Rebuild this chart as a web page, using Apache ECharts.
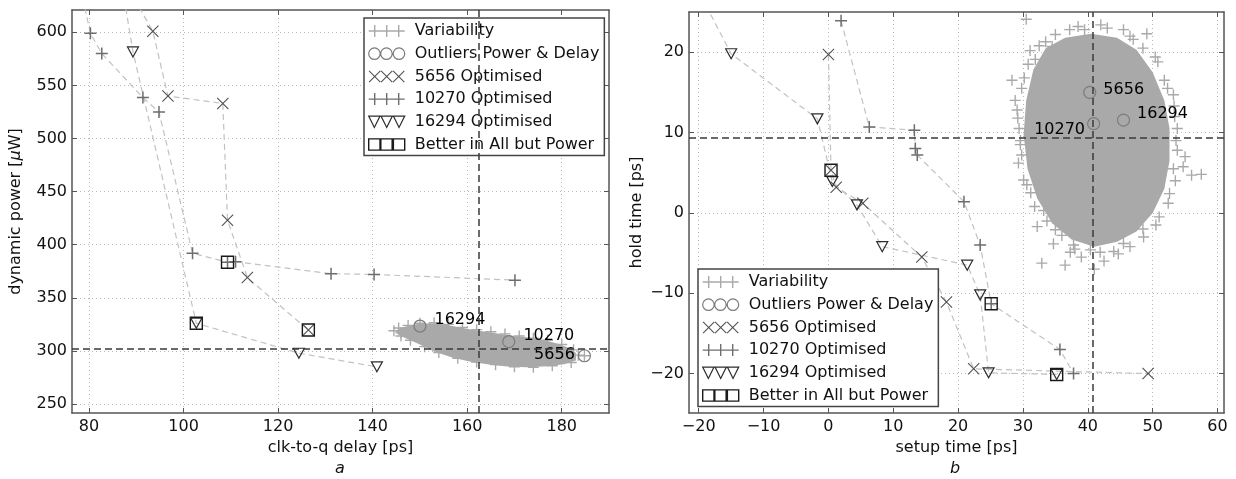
<!DOCTYPE html>
<html><head><meta charset="utf-8">
<script src="https://cdn.jsdelivr.net/npm/echarts@6/dist/echarts.min.js"></script>
<style>html,body{margin:0;padding:0;background:#fff}#c{width:1236px;height:479px}</style>
</head><body><div id="c"></div>
<script>
// ================= DATA =================
// ---- plot a : clk-to-q delay [ps] vs dynamic power [uW] ----
const aXTicks = [80, 100, 120, 140, 160, 180];
const aYTicks = [250, 300, 350, 400, 450, 500, 550, 600];
const aXRange = [76.4, 190];
const aYRange = [241.5, 621];
// dense core of the variability cloud (outline)
const aVarCore = [[144.8,319],[146.5,322.5],[149,325],[152,326],[155,325],[158,322.5],[161,320],[164,318],[167,316],[170,314],
                  [173,312.5],[176,310.5],[179,307],[181.5,303],[183,298],[183,291],[180.5,287.5],[177,285.5],[173,284.5],
                  [169,285],[165,287],[161,289.5],[157,293.5],[153,299.5],[150,306],[147.5,311],[145.5,315]];
// scattered variability samples at the cloud edge
const aVarFringe = [[144.5,319],[145.5,321.5],[146,317],[147.5,324],[150,326],[153,326.5],[156,325],[159,322],[162,320],
                    [165,318],[168,316],[171,314],[174,312],[177,310],[180,306],[182.5,301],[183.5,296],[184.8,295.4],
                    [182,289],[178,286],[174,284.5],[170,285],[166,287],[162,289.5],[158,293],[154,298.5],[151,304],[148,310],[146,314]];
const aOutliers = [[150,323.4],[168.8,308.7],[184.8,295.4]];
const aOutlierNames = ['16294', '10270', '5656'];
const a5656 = [[88.5,640],[93.5,601],[96.7,540],[108.3,533],[109.3,423],[113.5,369],[126.4,319.6]];
const a10270 = [[77.3,660],[80.3,599],[82.7,580],[91.4,538.5],[94.8,525],[101.9,392],[109.3,383.5],[111,384],[131.2,372.7],[140.3,372],[170.1,366.6]];
const a16294 = [[86.4,660],[89.3,581.5],[102.7,326],[124.4,297.8],[140.9,285]];
const aBetter = [[109.3,383.5],[126.4,319.6],[102.7,326]];
const aRef = {x: 162.5, y: 302};

// ---- plot b : setup time [ps] vs hold time [ps] ----
const bXTicks = [-20, -10, 0, 10, 20, 30, 40, 50, 60];
const bYTicks = [-20, -10, 0, 10, 20];
const bXRange = [-21.5, 61];
const bYRange = [-24.9, 25];
const bVarCore = [[33.5,20.5],[36.5,21.8],[40.5,22.3],[44.5,21.8],[47.5,20.3],[50,17.5],[51.8,14],[52.6,10.5],[52.6,6.5],
                  [51.8,3],[50,0],[47.5,-2.3],[44.5,-3.6],[41,-4.2],[37.5,-3.3],[34.5,-1.3],[32.2,1.8],[30.7,5.5],
                  [30.1,9.8],[30.5,14],[31.6,17.8]];
const bVarFringe = [[30.5,24.1],[37.2,22.8],[31.1,20.2],[31.9,19.1],[28.3,16.5],[28.8,14],[29.1,12.8],[49.1,22.3],[50.4,19.4],
                    [53.2,14.7],[55,7],[56,4.7],[54.7,5.75],[29.3,6.2],[30.1,4.1],[32.2,-1.7],[35,-2.1],[52.6,2.4],[32.9,-6.25],
                    [36.5,-6.5],[37.3,-4.9],[34.7,-3.85],[41.9,-4.9],[44.7,-5.1],[45.5,-3.8],[40.4,-4.6],[57.5,4.8],
                    [33.5,21.3],[43,23],[46.5,22],[53.4,12],[53.6,9],[29.6,8.5],[29.4,10.5],[48.5,-2],[51,-0.5],[39,-5.5],
                    [41,-7],[42.5,-6],[34.5,20.7],[39.5,22.8],[48.5,20.5],[51.8,16.5],[53.5,4],[31.2,2.5],[33.2,0.3],[30.2,16.8],[38,-4.5],
                    [35,22.2],[38.5,23.2],[42,23.4],[45.5,22.8],[47,21.6],[50.8,18.8],[52.3,15.5],[53.3,13.3],[53.8,10.5],[53.8,7.8],
                    [53.2,5.5],[52.4,1.2],[50.5,-1.5],[48.6,-3],[46.5,-4.2],[44,-4.8],[32.5,20.8],[30.8,18.5],[29.8,15.5],[29.2,11.8],
                    [29.6,9],[29.8,7.2],[30.6,3.5],[31.8,0.8],[33.7,-1],[36,-2.8],[37.8,-4]];
const bOutliers = [[40.3,15.0],[40.9,11.1],[45.5,11.55]];
const bOutlierNames = ['5656', '10270', '16294'];
const b5656 = [[0,19.7],[0.4,5.3],[1.2,3.2],[5.3,1.2],[14.4,-5.5],[18.2,-11.1],[22.4,-19.4],[49.3,-20]];
const b10270 = [[1.95,23.9],[6.3,10.7],[13.25,10.3],[13.4,8.0],[13.7,7.2],[20.9,1.4],[23.4,-4.0],[25.1,-11.3],[35.7,-17.0],[37.8,-20.0]];
const b16294 = [[-20.3,28],[-15,19.8],[-1.7,11.7],[0.6,3.9],[4.4,1.0],[8.3,-4.2],[21.4,-6.5],[23.4,-10.2],[24.7,-19.9],[35.2,-20.1]];
const bBetter = [[0.4,5.3],[25.1,-11.3],[35.2,-20.1]];
const bRef = {x: 40.8, y: 9.4};

const legendNames = ['Variability', 'Outliers Power & Delay', '5656 Optimised', '10270 Optimised', '16294 Optimised', 'Better in All but Power'];

// ================= STYLE / BUILD =================
const FONT = 'DejaVu Sans';
const PLUS = 'path://M10.5,0h3v10.5h10.5v3h-10.5v10.5h-3v-10.5h-10.5v-3h10.5z';
const CROSS = 'path://M0,1.5L1.5,0L12,10.5L22.5,0L24,1.5L13.5,12L24,22.5L22.5,24L12,13.5L1.5,24L0,22.5L10.5,12Z';
const TRI = 'path://M0,0L12,0L6,10.4Z';

function plus3() { let s = 'path://'; [6,18,30].forEach(c => { s += `M${c-0.7},0h1.4v5.3h5.3v1.4h-5.3v5.3h-1.4v-5.3h-5.3v-1.4h5.3z`; }); return s; }
function cross3() { let s = 'path://'; [0,12,24].forEach(o => { s += `M${o},0.75L${o+0.75},0L${o+6},5.25L${o+11.25},0L${o+12},0.75L${o+6.75},6L${o+12},11.25L${o+11.25},12L${o+6},6.75L${o+0.75},12L${o},11.25L${o+5.25},6Z`; }); return s; }
function circle3() { let s = 'path://'; [6,17.5,29.5].forEach(c => { s += `M${c-5.5},6a5.5,5.5 0 1,0 11,0a5.5,5.5 0 1,0 -11,0Z`; }); return s; }
function tri3() { let s = 'path://'; [0.5,12.5,24.5].forEach(o => { s += `M${o},0.5L${o+11},0.5L${o+5.5},11.5Z`; }); return s; }
function sq3() { let s = 'path://'; [0.5,12.3,24.5].forEach(o => { s += `M${o},0.5h11v11h-11Z`; }); return s; }

const C = {
  vari: '#a9a9a9', outl: '#7c7c7c', x: '#4f4f4f', plus: '#6e6e6e', tri: '#2e2e2e', sq: '#1a1a1a',
  link: '#c2c2c2', ref: '#3a3a3a', frame: '#555', grid: '#b8b8b8'
};

const fmtNum = v => String(v).replace('-', '\u2212');

function axisCommon(gi, range, ticks) {
  return {
    type: 'value', gridIndex: gi, min: range[0], max: range[1],
    axisLine: { show: true, onZero: false, lineStyle: { color: C.frame, width: 1.5 } },
    axisTick: { show: true, inside: true, length: 5, customValues: ticks, lineStyle: { color: C.frame, width: 1 } }
  };
}
function xAxes(gi, range, ticks, name, nameGap) {
  const common = axisCommon(gi, range, ticks);
  return [
    Object.assign({}, common, {
      position: 'bottom', name: name, nameLocation: 'middle', nameGap: nameGap,
      nameTextStyle: { fontFamily: FONT, fontSize: 16, color: '#111' },
      axisLabel: { fontFamily: FONT, fontSize: 16, color: '#111', margin: 6, customValues: ticks, formatter: v => fmtNum(v) },
      splitLine: { show: true, lineStyle: { color: C.grid, type: [1, 3], width: 1 } }
    }),
    Object.assign({}, common, { position: 'top', axisLabel: { show: false }, splitLine: { show: false } })
  ];
}
function yAxes(gi, range, ticks, name, nameGap) {
  const common = axisCommon(gi, range, ticks);
  return [
    Object.assign({}, common, {
      position: 'left', name: name, nameLocation: 'middle', nameGap: nameGap,
      nameTextStyle: { fontFamily: FONT, fontSize: 16, color: '#111',
                       rich: { i: { fontFamily: FONT, fontSize: 16, fontStyle: 'italic', color: '#111' } } },
      axisLabel: { fontFamily: FONT, fontSize: 16, color: '#111', margin: 5, customValues: ticks, formatter: v => fmtNum(v) },
      splitLine: { show: true, lineStyle: { color: C.grid, type: [1, 3], width: 1 } }
    }),
    Object.assign({}, common, { position: 'right', axisLabel: { show: false }, splitLine: { show: false } })
  ];
}

function plotSeries(gi, core, fringe, outl, outlNames, labelCfg, s5656, s10270, s16294, better, ref) {
  const xi = gi * 2, yi = gi * 2;
  const link = { color: C.link, type: [6, 4], width: 1.2 };
  return [
    { type: 'custom', name: 'Variability', xAxisIndex: xi, yAxisIndex: yi, z: 1, silent: true, clip: true,
      data: [core[0]],
      renderItem: (params, api) => ({ type: 'polygon', shape: { points: core.map(p => api.coord(p)) }, style: { fill: C.vari } }) },
    { type: 'scatter', name: 'Variability', xAxisIndex: xi, yAxisIndex: yi, z: 2, silent: true,
      symbol: PLUS, symbolSize: 11, itemStyle: { color: C.vari, opacity: 1 }, data: fringe,
      markLine: { silent: true, symbol: 'none', label: { show: false }, z: 10,
                  lineStyle: { color: C.ref, type: [7, 4], width: 1.5 },
                  data: [{ xAxis: ref.x }, { yAxis: ref.y }] } },
    { type: 'line', name: '5656 Optimised', xAxisIndex: xi, yAxisIndex: yi, z: 3, silent: true,
      symbol: CROSS, symbolSize: 12, showSymbol: true, lineStyle: link, itemStyle: { color: C.x, borderWidth: 0 }, data: s5656 },
    { type: 'line', name: '10270 Optimised', xAxisIndex: xi, yAxisIndex: yi, z: 3, silent: true,
      symbol: PLUS, symbolSize: 12, showSymbol: true, lineStyle: link, itemStyle: { color: C.plus, borderWidth: 0 }, data: s10270 },
    { type: 'line', name: '16294 Optimised', xAxisIndex: xi, yAxisIndex: yi, z: 3, silent: true,
      symbol: TRI, symbolSize: [11, 10], showSymbol: true, lineStyle: link,
      itemStyle: { color: 'rgba(0,0,0,0)', borderColor: C.tri, borderWidth: 1.2 }, data: s16294 },
    { type: 'scatter', name: 'Better in All but Power', xAxisIndex: xi, yAxisIndex: yi, z: 5, silent: true,
      symbol: 'rect', symbolSize: 12, itemStyle: { color: 'rgba(0,0,0,0)', borderColor: C.sq, borderWidth: 1.4, opacity: 1 }, data: better },
    { type: 'scatter', name: 'Outliers Power & Delay', xAxisIndex: xi, yAxisIndex: yi, z: 6, silent: true,
      symbol: 'circle', symbolSize: 12, itemStyle: { color: 'rgba(0,0,0,0)', borderColor: C.outl, borderWidth: 1.2, opacity: 1 },
      label: { show: true, color: '#000', fontFamily: FONT, fontSize: 16, textBorderWidth: 0 },
      data: outl.map((p, i) => ({ value: p, label: Object.assign({ show: true, formatter: outlNames[i],
        fontFamily: FONT, fontSize: 16, color: '#000', textBorderWidth: 0 }, labelCfg[i]) })) }
  ];
}

function legend(left, top) {
  const icons = [plus3(), circle3(), cross3(), plus3(), tri3(), sq3()];
  const styles = [
    { color: C.vari, borderWidth: 0 },
    { color: 'rgba(0,0,0,0)', borderColor: C.outl, borderWidth: 1.2 },
    { color: C.x, borderWidth: 0 },
    { color: C.plus, borderWidth: 0 },
    { color: 'rgba(0,0,0,0)', borderColor: C.tri, borderWidth: 1.2 },
    { color: 'rgba(0,0,0,0)', borderColor: C.sq, borderWidth: 1.4 }
  ];
  return {
    left: left, top: top, orient: 'vertical', align: 'left',
    itemWidth: 36, itemHeight: 12, itemGap: 4.7,
    padding: [4, 5, 2, 4], backgroundColor: '#fff', borderColor: '#444', borderWidth: 1.5, borderRadius: 0,
    selectedMode: false,
    textStyle: { fontFamily: FONT, fontSize: 16, color: '#111', lineHeight: 18, padding: [0, 0, 0, 5] },
    data: legendNames.map((n, i) => ({ name: n, icon: icons[i], itemStyle: styles[i] }))
  };
}

const aLabelCfg = [
  { position: 'right', distance: 8, offset: [0, -6] },
  { position: 'right', distance: 8, offset: [0, -6] },
  { position: 'left', distance: 3, offset: [0, -1] }
];
const bLabelCfg = [
  { position: 'right', distance: 7, offset: [0, -3] },
  { position: 'left', distance: 2, offset: [0, 6] },
  { position: 'right', distance: 7, offset: [0, -6] }
];

const option = {
  animation: false,
  textStyle: { fontFamily: FONT },
  grid: [
    { left: 72, top: 10, width: 537, height: 403, containLabel: false },
    { left: 689, top: 12, width: 535, height: 401, containLabel: false }
  ],
  xAxis: [].concat(
    xAxes(0, aXRange, aXTicks, 'clk-to-q delay [ps]', 23),
    xAxes(1, bXRange, bXTicks, 'setup time [ps]', 23)
  ),
  yAxis: [].concat(
    yAxes(0, aYRange, aYTicks, 'dynamic power [{i|\u03bc}W]', 48),
    yAxes(1, bYRange, bYTicks, 'hold time [ps]', 44)
  ),
  legend: [legend(364, 18), legend(698, 269)],
  series: [].concat(
    plotSeries(0, aVarCore, aVarFringe, aOutliers, aOutlierNames, aLabelCfg, a5656, a10270, a16294, aBetter, aRef),
    plotSeries(1, bVarCore, bVarFringe, bOutliers, bOutlierNames, bLabelCfg, b5656, b10270, b16294, bBetter, bRef)
  ),
  graphic: [
    { type: 'text', left: 335, top: 461, style: { text: 'a', font: 'italic 16px "DejaVu Sans"', fill: '#111' } },
    { type: 'text', left: 950, top: 461, style: { text: 'b', font: 'italic 16px "DejaVu Sans"', fill: '#111' } }
  ]
};

const chart = echarts.init(document.getElementById('c'), null, { renderer: 'canvas' });
chart.setOption(option);
</script>
</body></html>
